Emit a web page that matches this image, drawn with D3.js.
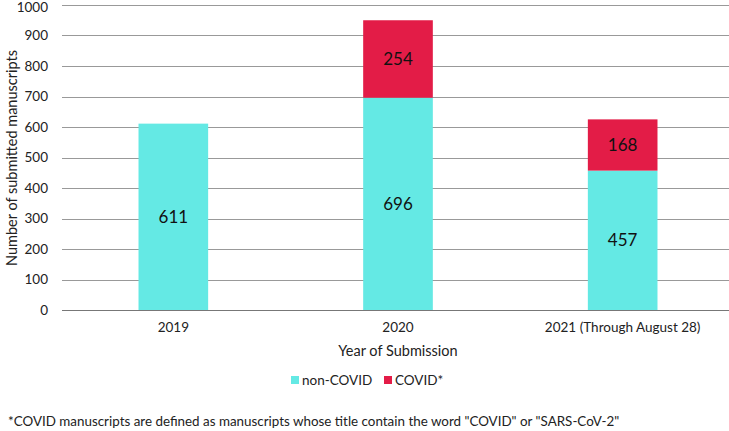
<!DOCTYPE html>
<html><head><meta charset="utf-8">
<script src="https://cdn.jsdelivr.net/npm/d3@7"></script>
<style>body{margin:0;background:#fff}svg{display:block;font-family:Lato,"Open Sans",sans-serif}</style>
</head><body><svg id="c" width="729" height="431"></svg>
<script>
const categories = ["2019", "2020", "2021 (Through August 28)"];
const nonCovid = [611, 696, 457];
const covid = [0, 254, 168];
const seriesNames = ["non-COVID", "COVID*"];
const yTicks = [0,100,200,300,400,500,600,700,800,900,1000];
const colors = ["#64E9E4", "#E31C47"];

const svg = d3.select("#c");
const x = d3.scaleBand().domain(categories).range([61, 735]).paddingInner(0.69).paddingOuter(0.345);
const y = d3.scaleLinear().domain([0, 1000]).range([310, 5]);

// gridlines
svg.append("g").selectAll("line").data(yTicks).join("line")
  .attr("x1", 62).attr("x2", 729)
  .attr("y1", d => Math.round(y(d)) + 0.5).attr("y2", d => Math.round(y(d)) + 0.5)
  .attr("stroke", d => d === 0 ? "#777" : "#999").attr("stroke-width", 1);

const yAxis = svg.append("g").attr("transform", "translate(62,0)")
  .call(d3.axisLeft(y).tickValues(yTicks).tickFormat(d3.format("d")).tickSize(0).tickPadding(14));
yAxis.select(".domain").remove();
yAxis.selectAll("text").attr("font-size", 13.5).attr("fill", "#222").attr("font-family", "Lato, sans-serif")
  .attr("dy", d => d === 1000 ? "0.45em" : "0.32em");

const data = categories.map((c, i) => ({c, a: nonCovid[i], b: covid[i]}));
const stack = d3.stack().keys(["a", "b"])(data);

svg.append("g").selectAll("g").data(stack).join("g")
  .attr("fill", (d, i) => colors[i])
  .selectAll("rect").data(d => d.filter(p => p[1] > p[0])).join("rect")
  .attr("x", d => x(d.data.c)).attr("width", x.bandwidth())
  .attr("y", d => y(d[1])).attr("height", d => y(d[0]) - y(d[1]));

// value labels
stack.forEach(s => {
  svg.append("g").selectAll("text").data(s.filter(p => p[1] > p[0])).join("text")
    .attr("x", d => x(d.data.c) + x.bandwidth() / 2)
    .attr("y", d => y((d[0] + d[1]) / 2))
    .attr("dy", "0.35em").attr("text-anchor", "middle")
    .attr("font-size", 17).attr("fill", "#111")
    .text(d => d[1] - d[0]);
});

// x axis
const xAxis = svg.append("g").attr("transform", "translate(0,310)")
  .call(d3.axisBottom(x).tickSize(0).tickPadding(12));
xAxis.select(".domain").remove();
xAxis.selectAll("text").attr("font-size", 13.5).attr("fill", "#222").attr("font-family", "Lato, sans-serif");

svg.append("text").attr("x", 398).attr("y", 356).attr("text-anchor", "middle")
  .attr("font-size", 14.5).attr("fill", "#222").text("Year of Submission");

svg.append("text").attr("transform", "translate(17,158) rotate(-90)").attr("text-anchor", "middle")
  .attr("font-size", 14.5).attr("fill", "#222").text("Number of submitted manuscripts");

// legend
const legX = [291, 384];
seriesNames.forEach((n, i) => {
  svg.append("rect").attr("x", legX[i]).attr("y", 376).attr("width", 8).attr("height", 8).attr("fill", colors[i]);
  svg.append("text").attr("x", legX[i] + 11).attr("y", 384.5).attr("font-size", 13.5).attr("fill", "#222").text(n);
});

svg.append("text").attr("x", 8).attr("y", 426).attr("font-size", 13.4).attr("fill", "#222")
  .text('*COVID manuscripts are defined as manuscripts whose title contain the word "COVID" or "SARS-CoV-2"');
</script></body></html>
